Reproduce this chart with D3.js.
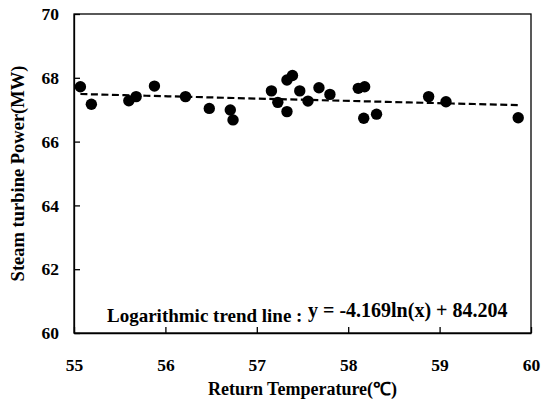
<!DOCTYPE html>
<html lang="en">
<head>
<meta charset="UTF-8">
<title>Steam turbine power vs return temperature</title>
<style>
    body { margin: 0; background: #fff; }
    svg text { font-family: "Liberation Serif", "Times New Roman", serif; font-weight: bold; fill: #000; }
    .axis path, .axis line { stroke: #000; stroke-width: 1.3px; }
    .axis text { font-size: 17.5px; }
</style>
</head>
<body>
<div id="chart"></div>
<script src="https://d3js.org/d3.v7.min.js"></script>
<script>
    // return temperature (C) and steam turbine power (MW)
    const returnTemp = [55.07, 55.19, 55.60, 55.68, 55.88, 56.22, 56.48, 56.71, 56.74,
                        57.16, 57.23, 57.33, 57.33, 57.39, 57.47, 57.56, 57.68, 57.80,
                        58.11, 58.18, 58.17, 58.31, 58.88, 59.07, 59.86];
    const turbinePower = [67.72, 67.17, 67.28, 67.41, 67.74, 67.41, 67.04, 66.99, 66.68,
                          67.59, 67.23, 66.94, 67.93, 68.07, 67.59, 67.27, 67.69, 67.48,
                          67.67, 67.72, 66.73, 66.86, 67.41, 67.25, 66.75];
    const xTicks = [55, 56, 57, 58, 59, 60];
    const yTicks = [60, 62, 64, 66, 68, 70];
    // logarithmic trend line printed on the chart: y = a*ln(x) + b
    const trendA = -4.169, trendB = 84.204;

    const W = 542, H = 411;
    const margin = { top: 14, right: 11, bottom: 78, left: 74 };
    const width = W - margin.left - margin.right,
          height = H - margin.top - margin.bottom;
    const serif = "'Liberation Serif', 'Times New Roman', serif";

    const svg = d3.select("#chart").append("svg")
        .attr("width", W)
        .attr("height", H);

    const g = svg.append("g")
        .attr("transform", "translate(" + margin.left + "," + margin.top + ")");

    const x = d3.scaleLinear().domain([55, 60]).range([0, width]);
    const y = d3.scaleLinear().domain([60, 70]).range([height, 0]);

    // frame
    g.append("rect")
        .attr("width", width)
        .attr("height", height)
        .attr("fill", "none")
        .attr("stroke", "#000")
        .attr("stroke-width", 1.3);

    // axes, ticks pointing inside
    g.append("g")
        .attr("class", "axis")
        .attr("transform", "translate(0," + height + ")")
        .call(d3.axisBottom(x).tickValues(xTicks).tickFormat(d3.format("d"))
            .tickSizeInner(-6).tickSizeOuter(0).tickPadding(26))
        .attr("font-family", serif)
        .attr("font-size", 17.5)
        .attr("font-weight", "bold");

    g.append("g")
        .attr("class", "axis")
        .call(d3.axisLeft(y).tickValues(yTicks).tickFormat(d3.format("d"))
            .tickSizeInner(-6).tickSizeOuter(0).tickPadding(15))
        .attr("font-family", serif)
        .attr("font-size", 17.5)
        .attr("font-weight", "bold");

    // trend line over the data range
    const xr = d3.extent(returnTemp);
    const trendPts = d3.range(0, 21).map(i => {
        const t = xr[0] + (xr[1] - xr[0]) * i / 20;
        return [t, trendA * Math.log(t) + trendB];
    });
    g.append("path")
        .datum(trendPts)
        .attr("fill", "none")
        .attr("stroke", "#000")
        .attr("stroke-width", 2.2)
        .attr("stroke-dasharray", "7,3.5")
        .attr("d", d3.line().x(d => x(d[0])).y(d => y(d[1])));

    // points
    g.selectAll(".dot")
        .data(returnTemp.map((t, i) => [t, turbinePower[i]]))
        .enter().append("circle")
        .attr("class", "dot")
        .attr("cx", d => x(d[0]))
        .attr("cy", d => y(d[1]))
        .attr("r", 5.7)
        .attr("fill", "#000");

    // annotation
    g.append("text")
        .attr("x", 33)
        .attr("y", 308)
        .style("font-size", "19px")
        .text("Logarithmic trend line :");
    g.append("text")
        .attr("x", 234)
        .attr("y", 303)
        .style("font-size", "20px")
        .text("y = -4.169ln(x) + 84.204");

    // axis titles
    svg.append("text")
        .attr("x", margin.left + width / 2)
        .attr("y", 395)
        .attr("text-anchor", "middle")
        .style("font-size", "18px")
        .text("Return Temperature(℃)");

    svg.append("text")
        .attr("transform", "translate(24," + (margin.top + height / 2) + ") rotate(-90)")
        .attr("text-anchor", "middle")
        .style("font-size", "18.5px")
        .text("Steam turbine Power(MW)");
</script>
</body>
</html>
